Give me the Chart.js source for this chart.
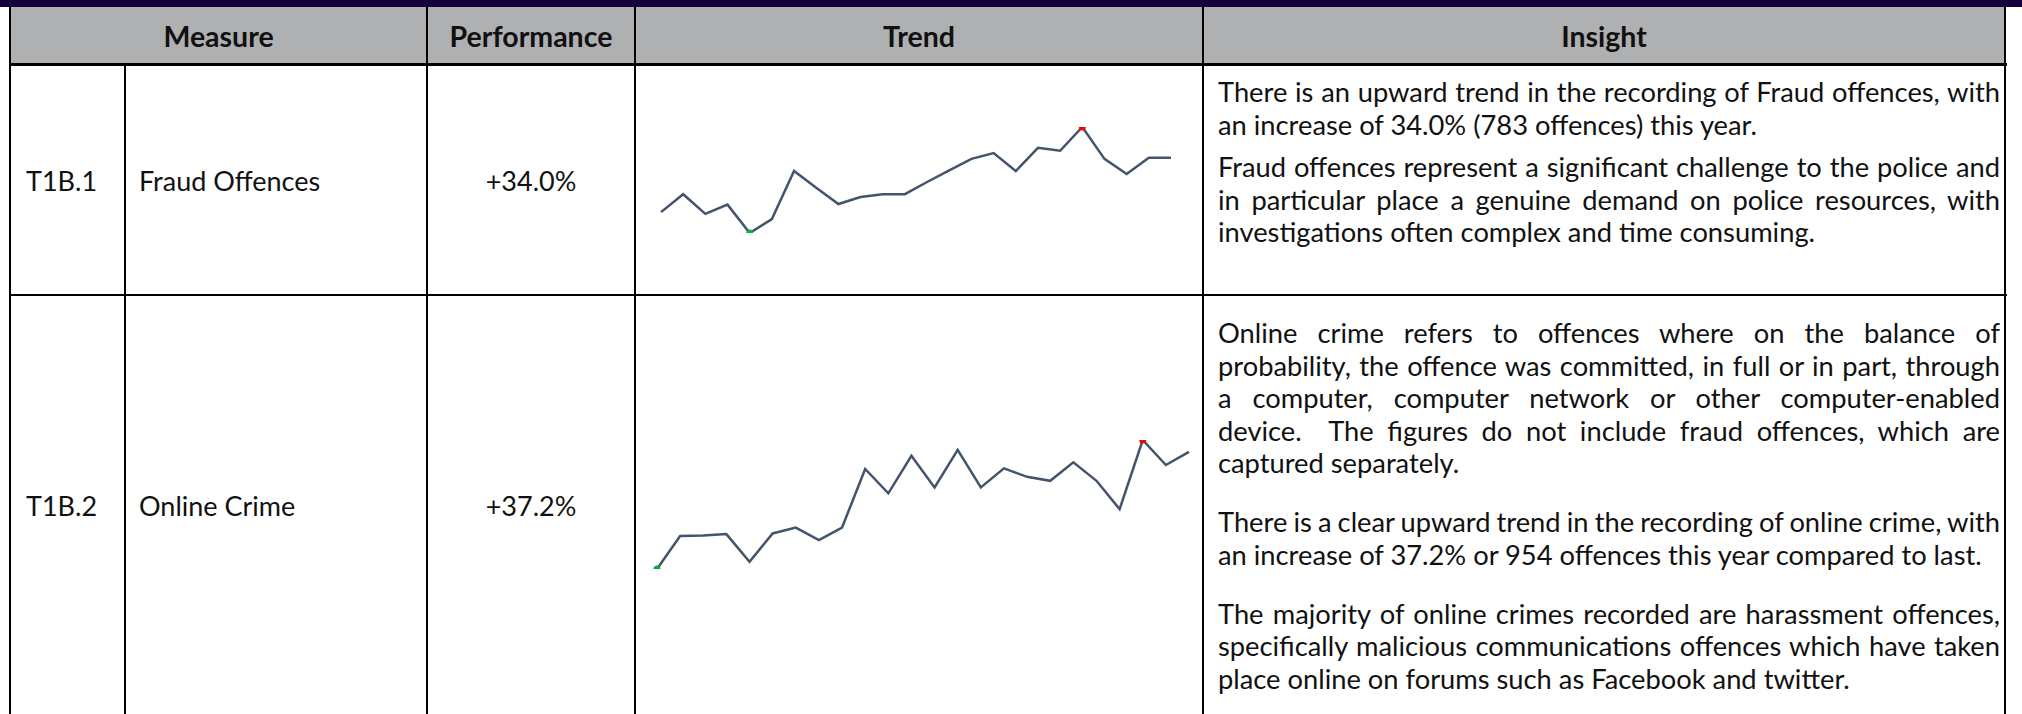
<!DOCTYPE html>
<html>
<head>
<meta charset="utf-8">
<script src="https://cdn.jsdelivr.net/npm/chart.js@4"></script>
<style>
    html, body { margin: 0; padding: 0; background: #fff; }
    body { width: 2022px; height: 714px; overflow: hidden; position: relative; font-family: Lato, "Open Sans", sans-serif; color: #111; }
    #topbar { position: absolute; left: 0; top: 0; width: 2022px; height: 7px; background: #14003c; }
    .cell { position: absolute; display: flex; align-items: center; font-size: 27px; white-space: nowrap; }
    .hdr { top: 7px; height: 58px; background: #afb0b2; font-weight: bold; font-size: 28.5px; justify-content: center; }
    .r1 { top: 65px; height: 230px; }
    .r2 { top: 295px; height: 420px; }
    .center { justify-content: center; }
    .vl { position: absolute; width: 2px; background: #000; bottom: 0; }
    .hl { position: absolute; height: 2px; background: #000; left: 9px; width: 1998px; }
    .ins { position: absolute; left: 1218px; width: 782px; font-size: 27.3px; }
    .ins p { margin: 0; }
    .ins span { display: block; line-height: 32.5px; white-space: nowrap; }
    #ins1 { top: 76px; }
    #ins1 p { margin-bottom: 10px; }
    #ins2 { top: 317px; }
    #ins2 p { margin-bottom: 26.5px; }
    .spark { position: absolute; }
    #spark1 { left: 657px; top: 123px; width: 518px; height: 114px; }
    #spark2 { left: 653px; top: 436px; width: 540px; height: 137px; }
</style>
</head>
<body>
<div id="topbar"></div>

<div class="cell hdr" style="left:10px;width:417px">Measure</div>
<div class="cell hdr" style="left:427px;width:208px">Performance</div>
<div class="cell hdr" style="left:635px;width:568px">Trend</div>
<div class="cell hdr" style="left:1203px;width:802px">Insight</div>

<div class="cell r1" style="left:26px">T1B.1</div>
<div class="cell r1" style="left:139px">Fraud Offences</div>
<div class="cell r1 center" style="left:427px;width:208px">+34.0%</div>

<div class="cell r2" style="left:26px">T1B.2</div>
<div class="cell r2" style="left:139px">Online Crime</div>
<div class="cell r2 center" style="left:427px;width:208px">+37.2%</div>

<div class="ins" id="ins1">
    <p><span class="j">There is an upward trend in the recording of Fraud offences, with</span><span>an increase of 34.0% (783 offences) this year.</span></p>
    <p><span class="j">Fraud offences represent a significant challenge to the police and</span><span class="j">in particular place a genuine demand on police resources, with</span><span>investigations often complex and time consuming.</span></p>
</div>
<div class="ins" id="ins2">
    <p><span class="j">Online crime refers to offences where on the balance of</span><span class="j">probability, the offence was committed, in full or in part, through</span><span class="j">a computer, computer network or other computer-enabled</span><span class="j">device.&nbsp; The figures do not include fraud offences, which are</span><span>captured separately.</span></p>
    <p><span class="j">There is a clear upward trend in the recording of online crime, with</span><span>an increase of 37.2% or 954 offences this year compared to last.</span></p>
    <p><span class="j">The majority of online crimes recorded are harassment offences,</span><span class="j">specifically malicious communications offences which have taken</span><span>place online on forums such as Facebook and twitter.</span></p>
</div>

<!-- table rules -->
<div class="vl" style="left:9px;top:7px"></div>
<div class="vl" style="left:124px;top:65px"></div>
<div class="vl" style="left:426px;top:7px"></div>
<div class="vl" style="left:634px;top:7px"></div>
<div class="vl" style="left:1202px;top:7px"></div>
<div class="vl" style="left:2004px;top:7px"></div>
<div class="hl" style="top:63px;height:3px"></div>
<div class="hl" style="top:294px"></div>

<div class="spark" id="spark1"><canvas id="c1"></canvas></div>
<div class="spark" id="spark2"><canvas id="c2"></canvas></div>

<script>
// 24 monthly points per measure
const months = ["M1","M2","M3","M4","M5","M6","M7","M8","M9","M10","M11","M12",
                "M13","M14","M15","M16","M17","M18","M19","M20","M21","M22","M23","M24"];
const fraudOffences = [165, 196, 162, 178, 129, 153, 236, 207, 179, 191, 196, 196,
                       217, 237, 257, 267, 236, 276, 271, 312, 257, 231, 259, 259];
const onlineCrime = [145, 195, 196, 198, 156, 199, 208, 189, 208, 297, 260, 317,
                     269, 326, 269, 298, 285, 279, 307, 279, 236, 341, 303, 323];

const LINE_COLOR = "#44546a";
const LOW_COLOR = "#00b050";
const HIGH_COLOR = "#ff0000";
const TEXT_W = 782;

// justify the insight lines by hand so the line breaks match the original
document.querySelectorAll(".ins span.j").forEach(s => {
    s.style.display = "inline-block";
    const w = s.getBoundingClientRect().width;
    s.style.display = "block";
    const gaps = (s.textContent.match(/[ \u00a0]/g) || []).length;
    if (gaps) s.style.wordSpacing = ((TEXT_W - w) / gaps) + "px";
});

function sparkline(id, values) {
    const lo = Math.min(...values);
    const hi = Math.max(...values);
    const loIdx = values.indexOf(lo);
    const hiIdx = values.indexOf(hi);

    new Chart(document.getElementById(id), {
        type: "line",
        data: {
            labels: months,
            datasets: [{
                data: values,
                borderColor: LINE_COLOR,
                borderWidth: 2.5,
                tension: 0,
                pointRadius: c => (c.dataIndex === loIdx || c.dataIndex === hiIdx) ? 3.5 : 0,
                pointBackgroundColor: c => c.dataIndex === loIdx ? LOW_COLOR : HIGH_COLOR,
                pointBorderWidth: 0
            }]
        },
        options: {
            responsive: true,
            maintainAspectRatio: false,
            animation: false,
            layout: { padding: 4 },
            plugins: { legend: { display: false }, tooltip: { enabled: false } },
            scales: {
                x: { display: false, offset: false },
                y: { display: false, min: lo, max: hi }
            }
        }
    });
}

sparkline("c1", fraudOffences);
sparkline("c2", onlineCrime);
</script>
</body>
</html>
